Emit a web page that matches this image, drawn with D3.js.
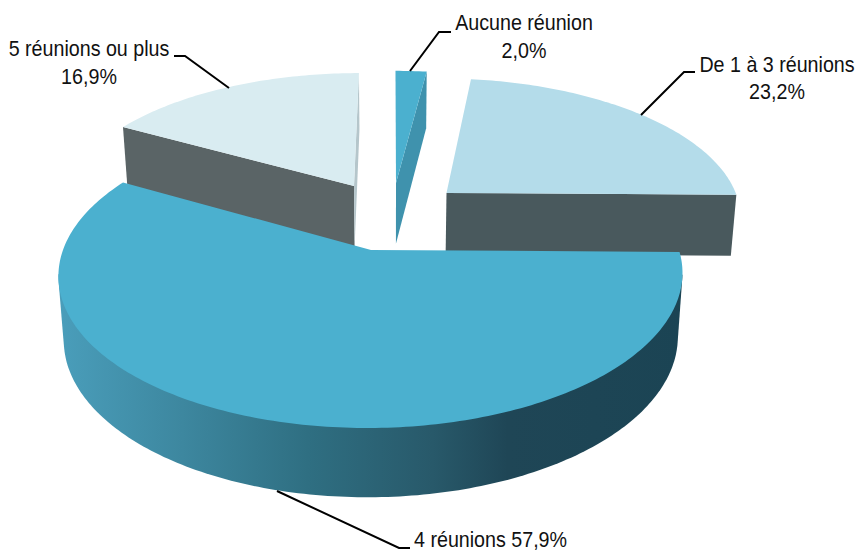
<!DOCTYPE html>
<html><head><meta charset="utf-8">
<script src="https://cdn.jsdelivr.net/npm/d3@7"></script>
<style>html,body{margin:0;padding:0;background:#fff}svg{display:block}text{font-family:"Liberation Sans",Arial,sans-serif;font-size:21.5px;fill:#111}</style>
</head><body><div id="c"></div>
<script>
const categories=["Aucune réunion","De 1 à 3 réunions","4 réunions","5 réunions ou plus"];
const values=[2.0,23.2,57.9,16.9];
const valueLabels=["2,0%","23,2%","57,9%","16,9%"];
const topColors=["#4bb0cf","#b4dcea","#4bb0cf","#d9ecf1"];
const startFace=[null,null,null,"#5a6466"];
const endFace=["#3f92ad","#49595d",null,"#b5c6cb"];
const outerFace=[null,null,"url(#wall)",null];

const W=855,H=550;
const cx=392,cy=250,R=308,Ry=149.5,P=0.16,kDown=0.984;
const apex=[[396,183],[446.5,193],[371,250],[354,186]];
const svg=d3.select("#c").append("svg").attr("width",W).attr("height",H);

const g=svg.append("defs").append("linearGradient").attr("id","wall").attr("gradientUnits","userSpaceOnUse")
 .attr("x1",57).attr("x2",683).attr("y1",0).attr("y2",0);
[[0,"#4a9ebb"],[0.2,"#3d879f"],[0.4,"#2f6f82"],[0.6,"#28596a"],[0.72,"#1f4656"],[1,"#1b4454"]]
 .forEach(([o,c])=>g.append("stop").attr("offset",o).attr("stop-color",c));

function proj(X,V,down){
  const s=1/(1-P*V);
  const x=cx+R*X*s, y=cy+Ry*V*s;
  if(!down) return [x,y];
  return [cx+(x-cx)*kDown, y+30+33*s];
}
function worldOffset(a){
  const t=(a[1]-cy)/Ry, V=t/(1+P*t), s=1/(1-P*V);
  return [(a[0]-cx)/(R*s),V];
}
const pie=d3.pie().sort(null).value(d=>d).startAngle(0).endAngle(2*Math.PI);
const arcs=pie(values);
const line=d3.line();
const drawOrder=[3,0,1,2];
const layer=svg.append("g");

drawOrder.forEach(i=>{
  const a=arcs[i],[ox,ov]=worldOffset(apex[i]);
  const n=Math.max(4,Math.round((a.endAngle-a.startAngle)*60));
  const th=d3.range(n+1).map(k=>a.startAngle+(a.endAngle-a.startAngle)*k/n);
  const rim=d=>th.map(t=>proj(ox+Math.sin(t),ov-Math.cos(t),d));
  const C=d=>proj(ox,ov,d);
  const edge=(t,d)=>proj(ox+Math.sin(t),ov-Math.cos(t),d);
  const poly=(pts,fill)=>layer.append("path").attr("d",line(pts)+"Z").attr("fill",fill);
  if(outerFace[i]){
    // silhouette of the extruded front rim: hull of its upper and lower edges
    const frontAngles=th.filter(t=>t>Math.PI*0.55&&t<Math.PI*1.45);
    const pts=frontAngles.map(t=>edge(t,false)).concat(frontAngles.map(t=>edge(t,true)));
    poly(d3.polygonHull(pts),outerFace[i]);
  }
  if(startFace[i]) poly([C(false),edge(a.startAngle,false),edge(a.startAngle,true),C(true)],startFace[i]);
  if(endFace[i]) poly([C(false),edge(a.endAngle,false),edge(a.endAngle,true),C(true)],endFace[i]);
  poly([C(false),...rim(false)],topColors[i]);
});

const leaders=[
 {i:0,pts:[[410,71],[439,32],[451,32]]},
 {i:1,pts:[[641,115],[684,72],[695,72]]},
 {i:2,pts:[[277,491],[399,548],[410,548]]},
 {i:3,pts:[[229,88],[185,56],[174,56]]}];
leaders.forEach(l=>svg.append("path").attr("d",line(l.pts)).attr("fill","none").attr("stroke","#000").attr("stroke-width",2));

const condense=0.915;
const label=(t,x,y,anchor)=>svg.append("text").attr("transform",`translate(${x},${y}) scale(${condense},1)`).attr("text-anchor",anchor).text(t);
label(categories[0],524,30,"middle");label(valueLabels[0],524,58,"middle");
label(categories[1],777,72,"middle");label(valueLabels[1],777,99,"middle");
label(categories[2]+" "+valueLabels[2],414,547,"start");
label(categories[3],89,56,"middle");label(valueLabels[3],89,84,"middle");
</script></body></html>
